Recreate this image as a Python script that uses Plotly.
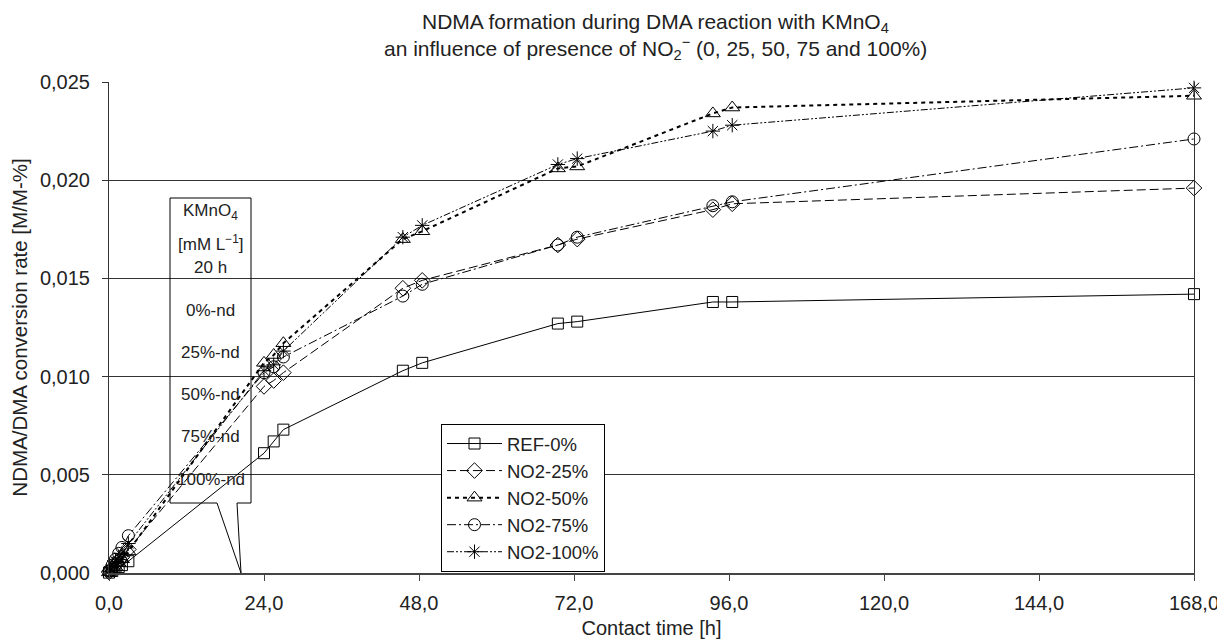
import plotly.graph_objects as go

time_h = [0, 0.5, 1, 1.5, 2, 3, 24, 25.5, 27, 45.5, 48.5, 69.5, 72.5, 93.5, 96.5, 168]
ref_0 = [0.00002, 0.0001, 0.0002, 0.0003, 0.0004, 0.0006, 0.0061, 0.0067, 0.0073, 0.0103, 0.0107, 0.0127, 0.0128, 0.0138, 0.0138, 0.0142]
no2_25 = [0.00005, 0.0002, 0.0004, 0.0006, 0.0008, 0.0012, 0.0095, 0.0098, 0.0102, 0.0145, 0.0149, 0.0167, 0.0170, 0.0185, 0.0188, 0.0196]
no2_50 = [0.00003, 0.0002, 0.0003, 0.0005, 0.0007, 0.0011, 0.0107, 0.0111, 0.0117, 0.0170, 0.0174, 0.0206, 0.0207, 0.0234, 0.0237, 0.0243]
no2_75 = [0.0001, 0.0004, 0.0007, 0.0010, 0.0013, 0.0019, 0.0102, 0.0105, 0.0110, 0.0141, 0.0147, 0.0167, 0.0171, 0.0187, 0.0189, 0.0221]
no2_100 = [0.0001, 0.0004, 0.0006, 0.0008, 0.0010, 0.0015, 0.0103, 0.0106, 0.0113, 0.0171, 0.0177, 0.0208, 0.0211, 0.0225, 0.0228, 0.0247]

series_names = ["REF-0%", "NO2-25%", "NO2-50%", "NO2-75%", "NO2-100%"]
series_values = [ref_0, no2_25, no2_50, no2_75, no2_100]
x_ticks = [0, 24, 48, 72, 96, 120, 144, 168]
y_ticks = [0, 0.005, 0.010, 0.015, 0.020, 0.025]
title_lines = ["NDMA formation during DMA reaction with KMnO<sub>4</sub>",
               "an influence of presence of NO<sub>2</sub><sup>−</sup> (0, 25, 50, 75 and 100%)"]
box_lines = ["KMnO<sub>4</sub>", "[mM L<sup>−1</sup>]", "20 h", "0%-nd", "25%-nd", "50%-nd", "75%-nd", "100%-nd"]

styles = [
    dict(dash="solid", width=1, symbol="square-open", size=11),
    dict(dash="9px,4px", width=1, symbol="diamond-open", size=12),
    dict(dash="4px,4px", width=2, symbol="triangle-up-open", size=13),
    dict(dash="9px,3px,2px,3px", width=1, symbol="circle-open", size=12),
    dict(dash="7px,2px,2px,2px,2px,2px", width=1, symbol="asterisk-open", size=12),
]

FONT = "Liberation Sans, Arial, sans-serif"
TXT = "#222"

fig = go.Figure()
for name, vals, st in zip(series_names, series_values, styles):
    fig.add_trace(go.Scatter(
        x=time_h, y=vals, name=name, mode="lines+markers",
        line=dict(color="black", width=st["width"], dash=st["dash"]),
        marker=dict(symbol=st["symbol"], size=st["size"], color="black",
                    line=dict(color="black", width=1)),
        cliponaxis=False,
    ))

# page body has an 8px margin: screen coords = figure coords + 8
OFF = 8
# plot area in screen pixels
L, R, T, B = 109, 1194, 82, 573
W, H = R - L, B - T
FIG_W, FIG_H = 1225 - OFF, 641 - OFF

def px_x(px):
    return (px - L) / W * 168

def px_y(py):
    return (B - py) / H * 0.025

def paper_x(px):
    return (px - L) / W

def paper_y(py):
    return (B - py) / H

# callout box (decoration)
bx0, bx1, by0, by1 = px_x(170), px_x(251), px_y(198), px_y(503)
p1, tip, p2 = px_x(217), px_x(241), px_x(237)
path = (f"M {bx0},{by0} L {bx1},{by0} L {bx1},{by1} L {p2},{by1} "
        f"L {tip},0 L {p1},{by1} L {bx0},{by1} Z")
fig.add_shape(type="path", path=path, xref="x", yref="y",
              line=dict(color="black", width=1), fillcolor="rgba(0,0,0,0)")

box_y_px = [212, 243, 267, 310, 352, 394, 436, 479]
for txt, ypx in zip(box_lines, box_y_px):
    fig.add_annotation(x=px_x(210.5), y=px_y(ypx), xref="x", yref="y",
                       text=txt, showarrow=False, yanchor="middle",
                       font=dict(family=FONT, size=17, color=TXT))

for txt, ypx in zip(title_lines, [23, 48]):
    fig.add_annotation(x=paper_x(655), y=paper_y(ypx), xref="paper", yref="paper",
                       text=txt, showarrow=False, xanchor="center", yanchor="middle",
                       font=dict(family=FONT, size=21, color=TXT))

fig.update_layout(
    width=FIG_W, height=FIG_H,
    margin=dict(l=L - OFF, r=FIG_W - (R - OFF), t=T - OFF, b=FIG_H - (B - OFF),
                autoexpand=False),
    paper_bgcolor="white", plot_bgcolor="white",
    separators=",.",
    font=dict(family=FONT, size=18, color=TXT),
    showlegend=True,
    legend=dict(
        x=paper_x(441), y=paper_y(424), xanchor="left", yanchor="top",
        bgcolor="white", bordercolor="black", borderwidth=1,
        font=dict(family=FONT, size=18.5, color=TXT),
        itemwidth=55, tracegroupgap=0,
    ),
    xaxis=dict(
        range=[0, 168], tickvals=x_ticks, tickformat=".1f",
        showgrid=False, zeroline=False, automargin=False,
        showline=True, linecolor="#444", linewidth=2,
        ticks="outside", ticklen=6, tickcolor="#444",
        ticklabelstandoff=5,
        tickfont=dict(family=FONT, size=20, color=TXT),
        title=dict(text="Contact time [h]", standoff=8,
                   font=dict(family=FONT, size=20, color=TXT)),
    ),
    yaxis=dict(
        range=[0, 0.025], tickvals=y_ticks, tickformat=".3f",
        showgrid=True, gridcolor="#333", gridwidth=1, zeroline=False,
        automargin=False,
        showline=True, linecolor="#333", linewidth=1, mirror=True,
        ticks="outside", ticklen=6, tickcolor="#333",
        ticklabelstandoff=8,
        tickfont=dict(family=FONT, size=20, color=TXT),
        title=dict(text="NDMA/DMA conversion rate [M/M-%]", standoff=8,
                   font=dict(family=FONT, size=20.5, color=TXT)),
    ),
)

fig.write_html("out.html")
